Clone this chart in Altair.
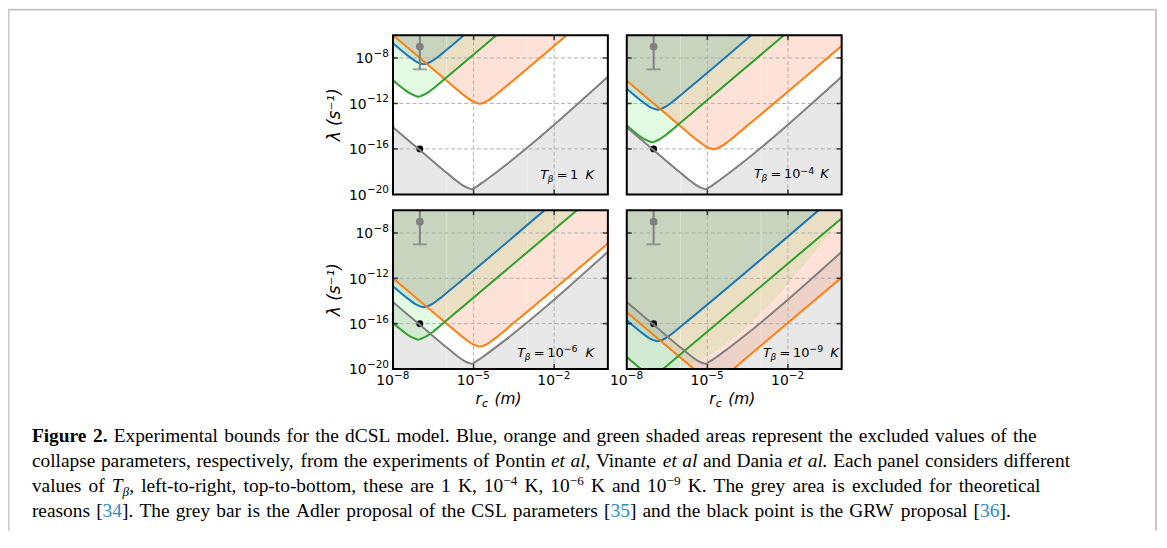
import altair as alt
import pandas as pd

W, H = 1157, 524
SANS = "DejaVu Sans"
SERIF = "Liberation Serif"

# ---------------- values (log10 exponents) ----------------
X_TICKS = [-8, -5, -2]
X_TICK_EXP = ["−8", "−5", "−2"]
Y_TICKS = [-8, -12, -16, -20]
Y_TICK_EXP = ["−8", "−12", "−16", "−20"]
X_GRID = [-5, -2]
Y_GRID = [-8, -12, -16]
MINOR_X = [-6, -3]
T_MAIN = ["1", "10", "10", "10"]
T_EXP = ["", "−4", "−6", "−9"]

ADLER_RC = [-7]
ADLER_CENTER = [-7]
ADLER_LOW = [-9]
ADLER_HIGH = [-5]
GRW_RC = [-7]
GRW_LAMBDA = [-16]

# theoretical (grey) bound, identical in every panel
GREY_X = [-8, -7, -6, -5.6, -5.35, -5.2, -5.07, -4.95, -4.8, -4.6, 0]
GREY_Y = [-14.1, -16.1, -18.1, -18.87, -19.28, -19.45, -19.54, -19.40, -19.18, -18.84, -9.66]

# panel 1: T = 1 K
P1_BLUE_X = [-8, -7.4, -7.15, -7.0, -6.855, -6.7, -6.55, -6.3, -6.0, -5.36]
P1_BLUE_Y = [-6.7, -7.88, -8.30, -8.46, -8.55, -8.45, -8.28, -7.86, -7.28, -6.0]
P1_ORANGE_X = [-8, -6, -5.3, -5.05, -4.9, -4.77, -4.62, -4.47, -4.2, -3.5, -1.535]
P1_ORANGE_Y = [-6, -10, -11.38, -11.79, -11.94, -12.02, -11.93, -11.76, -11.30, -9.93, -6]
P1_GREEN_X = [-8, -7.6, -7.35, -7.2, -7.06, -6.9, -6.75, -6.5, -6.0, -4.15]
P1_GREEN_Y = [-9.95, -10.73, -11.14, -11.30, -11.42, -11.28, -11.11, -10.69, -9.7, -6]

# panel 2: T = 1e-4 K
P2_BLUE_X = [-8, -7.4, -7.15, -7.0, -6.855, -6.7, -6.55, -6.3, -6.0, -3.36]
P2_BLUE_Y = [-10.7, -11.88, -12.30, -12.46, -12.55, -12.45, -12.28, -11.86, -11.28, -6.0]
P2_ORANGE_X = [-8, -6, -5.3, -5.05, -4.9, -4.77, -4.62, -4.47, -4.2, -3.5, 0]
P2_ORANGE_Y = [-10, -14, -15.38, -15.79, -15.94, -16.02, -15.93, -15.76, -15.30, -13.93, -6.93]
P2_GREEN_X = [-8, -7.6, -7.35, -7.2, -7.06, -6.9, -6.75, -6.5, -6.0, -2.15]
P2_GREEN_Y = [-13.95, -14.73, -15.14, -15.30, -15.42, -15.28, -15.11, -14.69, -13.7, -6]

# panel 3: T = 1e-6 K
P3_BLUE_X = [-8, -7.4, -7.15, -7.0, -6.855, -6.7, -6.55, -6.3, -6.0, -2.36]
P3_BLUE_Y = [-12.7, -13.88, -14.30, -14.46, -14.55, -14.45, -14.28, -13.86, -13.28, -6.0]
P3_ORANGE_X = [-8, -6, -5.3, -5.05, -4.9, -4.77, -4.62, -4.47, -4.2, -3.5, 0]
P3_ORANGE_Y = [-12, -16, -17.38, -17.79, -17.94, -18.02, -17.93, -17.76, -17.30, -15.93, -8.93]
P3_GREEN_X = [-8, -7.6, -7.35, -7.2, -7.06, -6.9, -6.75, -6.5, -6.0, -1.15]
P3_GREEN_Y = [-15.95, -16.73, -17.14, -17.30, -17.42, -17.28, -17.11, -16.69, -15.7, -6]

# panel 4: T = 1e-9 K
P4_BLUE_X = [-8, -7.4, -7.15, -7.0, -6.855, -6.7, -6.55, -6.3, -6.0, -0.86]
P4_BLUE_Y = [-15.7, -16.88, -17.30, -17.46, -17.55, -17.45, -17.28, -16.86, -16.28, -6.0]
P4_ORANGE_X = [-8, -6, -5.5, -4.035, -3.5, 0]
P4_ORANGE_Y = [-15, -19, -20, -20, -18.93, -11.93]
P4_ORANGE_SEG = [0, 0, 0, 1, 1, 1]
P4_GREEN_X = [-8, -7.475, -6.65, 0]
P4_GREEN_Y = [-18.95, -20, -20, -6.7]
P4_GREEN_SEG = [0, 0, 1, 1]

# ---------------- styles ----------------
BLUE, ORANGE, GREEN, GREY = "#1f77b4", "#ff7f0e", "#2ca02c", "#808080"
GREY_FILL = "#e8e8e8"
GREEN_FILL, GREEN_OP = "#90ee90", 0.25
ORANGE_FILL, ORANGE_OP = "#ffa07a", 0.30
BLUE_FILL, BLUE_OP = "#6fb8b0", 0.27
GRID = "#b0b0b0"
LAB_SIZE, EXP_SIZE = 14, 10.5
DIGIT_W = 0.636 * LAB_SIZE        # DejaVu Sans digit advance
EXP_W = {1: 16.0, 2: 22.5}         # width of "−d" / "−dd" at EXP_SIZE

PANELS = [
    dict(x0=387, x1=603, y0=26, y1=186, blue=(P1_BLUE_X, P1_BLUE_Y, None),
         orange=(P1_ORANGE_X, P1_ORANGE_Y, None), green=(P1_GREEN_X, P1_GREEN_Y, None),
         ylab=True, xlab=False, k=0, ann=(535, 589, 170.5)),
    dict(x0=622, x1=838, y0=26, y1=186, blue=(P2_BLUE_X, P2_BLUE_Y, None),
         orange=(P2_ORANGE_X, P2_ORANGE_Y, None), green=(P2_GREEN_X, P2_GREEN_Y, None),
         ylab=False, xlab=False, k=1, ann=(750, 825, 170)),
    dict(x0=387, x1=603, y0=202, y1=361.5, blue=(P3_BLUE_X, P3_BLUE_Y, None),
         orange=(P3_ORANGE_X, P3_ORANGE_Y, None), green=(P3_GREEN_X, P3_GREEN_Y, None),
         ylab=True, xlab=True, k=2, ann=(512, 589, 349)),
    dict(x0=622, x1=838, y0=202, y1=361.5, blue=(P4_BLUE_X, P4_BLUE_Y, None),
         orange=(P4_ORANGE_X, P4_ORANGE_Y, P4_ORANGE_SEG), green=(P4_GREEN_X, P4_GREEN_Y, P4_GREEN_SEG),
         ylab=False, xlab=True, k=3, ann=(759, 835, 349)),
]


def curve_frame(xs, ys, seg=None):
    return pd.DataFrame({"x": xs, "y": ys, "top": -6, "bottom": -20,
                         "seg": seg if seg is not None else [0] * len(xs)})


def one():
    return pd.DataFrame({"a": [0]})


def txt(x, y, s, **kw):
    base = dict(align="left", baseline="alphabetic", font=SANS, fontSize=13, color="black")
    base.update(kw)
    return alt.Chart(one()).mark_text(**base).encode(x=alt.value(x), y=alt.value(y), text=alt.value(s))


def panel(p):
    xs = alt.Scale(domain=[-8, 0], range=[p["x0"], p["x1"]], nice=False, zero=False)
    ys = alt.Scale(domain=[-20, -6], range=[p["y1"], p["y0"]], nice=False, zero=False, clamp=True)

    def X(f):
        return alt.X(f, type="quantitative", scale=xs, axis=None)

    def Y(f):
        return alt.Y(f, type="quantitative", scale=ys, axis=None)

    grey = curve_frame(GREY_X, GREY_Y)
    blue = curve_frame(*p["blue"])
    orange = curve_frame(*p["orange"])
    green = curve_frame(*p["green"])
    L = []
    # shaded areas
    L.append(alt.Chart(grey).mark_area(color=GREY_FILL, interpolate="monotone")
             .encode(x=X("x"), y=Y("y"), y2="bottom"))
    L.append(alt.Chart(green).mark_area(color=GREEN_FILL, opacity=GREEN_OP, interpolate="monotone")
             .encode(x=X("x"), y=Y("y"), y2="top"))
    L.append(alt.Chart(orange).mark_area(color=ORANGE_FILL, opacity=ORANGE_OP, interpolate="monotone")
             .encode(x=X("x"), y=Y("y"), y2="top"))
    L.append(alt.Chart(blue).mark_area(color=BLUE_FILL, opacity=BLUE_OP, interpolate="monotone")
             .encode(x=X("x"), y=Y("y"), y2="top"))
    # grid
    gx = pd.DataFrame({"x": X_GRID, "y": -20, "y2": -6})
    gy = pd.DataFrame({"y": Y_GRID, "x": -8, "x2": 0})
    mx = pd.DataFrame({"x": MINOR_X, "y": -20, "y2": -6})
    L.append(alt.Chart(mx).mark_rule(color="white", strokeWidth=1, opacity=0.35)
             .encode(x=X("x"), y=Y("y"), y2="y2"))
    L.append(alt.Chart(gx).mark_rule(color=GRID, strokeWidth=1, strokeDash=[4, 2.5])
             .encode(x=X("x"), y=Y("y"), y2="y2"))
    L.append(alt.Chart(gy).mark_rule(color=GRID, strokeWidth=1, strokeDash=[4, 2.5])
             .encode(y=Y("y"), x=X("x"), x2="x2"))
    # GRW point (under the curves)
    grw = pd.DataFrame({"x": GRW_RC, "y": GRW_LAMBDA})
    L.append(alt.Chart(grw).mark_point(color="black", filled=True, opacity=1, size=48, shape="circle")
             .encode(x=X("x"), y=Y("y")))
    # curves
    for df, col in ((blue, BLUE), (orange, ORANGE), (green, GREEN), (grey, GREY)):
        L.append(alt.Chart(df).mark_line(color=col, strokeWidth=2, interpolate="monotone")
                 .encode(x=X("x"), y=Y("y"), detail="seg:N"))
    # Adler bar
    ad = pd.DataFrame({"x": ADLER_RC, "y": ADLER_CENTER, "lo": ADLER_LOW, "hi": ADLER_HIGH})
    L.append(alt.Chart(ad).mark_rule(color=GREY, strokeWidth=2)
             .encode(x=X("x"), y=Y("lo"), y2="hi"))
    L.append(alt.Chart(ad).mark_tick(color=GREY, orient="horizontal", size=14, thickness=2)
             .encode(x=X("x"), y=Y("lo")))
    L.append(alt.Chart(ad).mark_point(color=GREY, filled=True, opacity=1, size=62, shape="circle")
             .encode(x=X("x"), y=Y("y")))
    # frame
    fr = pd.DataFrame({"x": [-8], "x2": [0], "y": [-20], "y2": [-6]})
    L.append(alt.Chart(fr).mark_rect(fillOpacity=0, stroke="black", strokeWidth=2)
             .encode(x=X("x"), x2="x2", y=Y("y"), y2="y2"))
    # inward ticks
    ty = pd.DataFrame({"y": Y_GRID, "xl": -8, "xr": 0})
    tx = pd.DataFrame({"x": X_GRID, "yb": -20, "yt": -6})
    L.append(alt.Chart(ty).mark_tick(color="black", orient="horizontal", size=5, thickness=1.6, xOffset=2.5)
             .encode(x=X("xl"), y=Y("y")))
    L.append(alt.Chart(ty).mark_tick(color="black", orient="horizontal", size=5, thickness=1.6, xOffset=-2.5)
             .encode(x=X("xr"), y=Y("y")))
    L.append(alt.Chart(tx).mark_tick(color="black", orient="vertical", size=5, thickness=1.6, yOffset=-2.5)
             .encode(x=X("x"), y=Y("yb")))
    L.append(alt.Chart(tx).mark_tick(color="black", orient="vertical", size=5, thickness=1.6, yOffset=2.5)
             .encode(x=X("x"), y=Y("yt")))
    # tick labels ("10" + raised exponent)
    if p["ylab"]:
        for v, e in zip(Y_TICKS, Y_TICK_EXP):
            d = pd.DataFrame({"x": [-8], "y": [v], "b": ["10"], "e": [e]})
            ew = EXP_W[len(e) - 1]
            L.append(alt.Chart(d).mark_text(align="right", baseline="alphabetic", dx=-4, dy=-1,
                                            font=SANS, fontSize=EXP_SIZE, color="black")
                     .encode(x=X("x"), y=Y("y"), text="e:N"))
            L.append(alt.Chart(d).mark_text(align="right", baseline="alphabetic", dx=-4 - ew, dy=5.5,
                                            font=SANS, fontSize=LAB_SIZE, color="black")
                     .encode(x=X("x"), y=Y("y"), text="b:N"))
        cy = (p["y0"] + p["y1"]) / 2
        L.append(alt.Chart(one()).mark_text(angle=270, align="center", baseline="middle",
                                            font=SANS, fontSize=17, fontStyle="italic", color="black")
                 .encode(x=alt.value(p["x0"] - 58), y=alt.value(cy), text=alt.value("λ (s⁻¹)")))
    if p["xlab"]:
        for v, e in zip(X_TICKS, X_TICK_EXP):
            d = pd.DataFrame({"x": [v], "y": [-20], "b": ["10"], "e": [e]})
            tot = 2 * DIGIT_W + EXP_W[len(e) - 1]
            L.append(alt.Chart(d).mark_text(align="left", baseline="alphabetic", dx=-tot / 2, dy=16,
                                            font=SANS, fontSize=LAB_SIZE, color="black")
                     .encode(x=X("x"), y=Y("y"), text="b:N"))
            L.append(alt.Chart(d).mark_text(align="left", baseline="alphabetic",
                                            dx=-tot / 2 + 2 * DIGIT_W, dy=10.5,
                                            font=SANS, fontSize=EXP_SIZE, color="black")
                     .encode(x=X("x"), y=Y("y"), text="e:N"))
        bx = p["x0"] + 83
        by = p["y1"] + 35.5
        L.append(txt(bx, by, "r", fontSize=15.5, fontStyle="italic"))
        L.append(txt(bx + 6.5, by + 3, "c", fontSize=11, fontStyle="italic"))
        L.append(txt(bx + 19, by, "(m)", fontSize=15.5, fontStyle="italic"))
    # temperature annotation
    s, r, b = p["ann"]
    k = p["k"]
    L.append(txt(s, b, "T", fontStyle="italic"))
    L.append(txt(s + 7.5, b + 3, "β", fontSize=9, fontStyle="italic"))
    L.append(txt(s + 16.5, b, "="))
    L.append(txt(s + 30, b, T_MAIN[k]))
    if T_EXP[k]:
        L.append(txt(s + 30 + 16.5, b - 5, T_EXP[k], fontSize=9.5))
    L.append(txt(r, b, "K", align="right", fontStyle="italic"))
    return alt.layer(*L)


# ---------------- caption ----------------
CAPTION_LINES = [
    [("Figure 2.", "b"),
     (" Experimental bounds for the dCSL model. Blue, orange and green shaded areas represent the excluded values of the", "n")],
    [("collapse parameters, respectively, from the experiments of Pontin ", "n"), ("et al", "i"),
     (", Vinante ", "n"), ("et al", "i"), (" and Dania ", "n"), ("et al.", "i"),
     (" Each panel considers different", "n")],
    [("values of ", "n"), ("T", "i"), ("β", "sub"),
     (", left-to-right, top-to-bottom, these are 1 K, 10", "n"), ("−4", "sup"), (" K, 10", "n"),
     ("−6", "sup"), (" K and 10", "n"), ("−9", "sup"),
     (" K. The grey area is excluded for theoretical", "n")],
    [("reasons [", "n"), ("34", "c"), ("]. The grey bar is the Adler proposal of the CSL parameters [", "n"),
     ("35", "c"), ("] and the black point is the GRW proposal [", "n"), ("36", "c"), ("].", "n")],
]
CAP_LINE_ENDS = [1042, 1076, 1046, 1016]     # page x where each caption line ends
CAP_X0 = 32
CAP_BASELINES = [443, 468, 493, 518]         # page y of each baseline
CAP_SIZE = 19.5
CITE = "#2a8cc9"

_R = {" ": 250, ",": 250, ".": 250, "-": 333, "[": 333, "]": 333, "(": 333, ")": 333, "−": 564,
      "β": 500, "A": 722, "B": 667, "C": 667, "D": 722, "E": 611, "F": 556, "G": 722, "K": 722,
      "L": 611, "P": 556, "R": 667, "S": 556, "T": 611, "V": 722, "W": 944,
      "a": 444, "b": 500, "c": 444, "d": 500, "e": 444, "f": 333, "g": 500, "h": 500, "i": 278,
      "j": 278, "k": 500, "l": 278, "m": 778, "n": 500, "o": 500, "p": 500, "q": 500, "r": 333,
      "s": 389, "t": 278, "u": 500, "v": 500, "w": 722, "x": 500, "y": 500, "z": 444}
_B = {"F": 611, "u": 556, "r": 444, "2": 500}
_I = {"T": 556, "a": 500}


def seg_size(style):
    return CAP_SIZE * (0.68 if style in ("sup", "sub") else 1)


def text_width(s, style):
    tab = dict(_R)
    if style == "b":
        tab.update(_B)
    if style in ("i", "sub"):
        tab.update(_I)
    return sum(tab.get(ch, 500) for ch in s) * seg_size(style) / 1000


rows = {k: [] for k in ("n", "b", "i", "c", "sup", "sub")}
for line, base, end in zip(CAPTION_LINES, CAP_BASELINES, CAP_LINE_ENDS):
    # split into words and inter-word spaces, then spread the spaces to fill the line
    tokens = []
    for seg, style in line:
        parts = seg.split(" ")
        for i, part in enumerate(parts):
            if i > 0:
                tokens.append(("space", style))
            if part:
                tokens.append((part, style))
    natural = sum(text_width(" ", st) if t == "space" else text_width(t, st) for t, st in tokens)
    n_sp = sum(1 for t, _ in tokens if t == "space")
    extra = (end - CAP_X0 - natural) / n_sp
    cum = CAP_X0 - 8
    for t, style in tokens:
        if t == "space":
            cum += text_width(" ", style) + extra
            continue
        y = base - 8
        if style == "sup":
            y -= 0.36 * CAP_SIZE
        elif style == "sub":
            y += 0.2 * CAP_SIZE
        rows[style].append({"x": cum, "y": y, "text": t})
        cum += text_width(t, style)

cap_layers = []
for style, props in (("n", {}), ("b", {"fontWeight": "bold"}), ("i", {"fontStyle": "italic"}),
                     ("c", {"color": CITE}), ("sup", {"fontSize": CAP_SIZE * 0.68}),
                     ("sub", {"fontSize": CAP_SIZE * 0.68, "fontStyle": "italic"})):
    kw = dict(align="left", baseline="alphabetic", font=SERIF, fontSize=CAP_SIZE, color="black")
    kw.update(props)
    cap_layers.append(alt.Chart(pd.DataFrame(rows[style])).mark_text(**kw).encode(
        x=alt.X("x:Q", scale=None, axis=None), y=alt.Y("y:Q", scale=None, axis=None), text="text:N"))

# page frame lines
deco = [
    alt.Chart(one()).mark_rule(color="#c8c8c8", strokeWidth=2)
    .encode(x=alt.value(0.5), y=alt.value(0), y2=alt.value(H)),
    alt.Chart(one()).mark_rule(color="#c8c8c8", strokeWidth=2)
    .encode(x=alt.value(1154), y=alt.value(0), y2=alt.value(H)),
    alt.Chart(one()).mark_rule(color="#c8c8c8", strokeWidth=2)
    .encode(x=alt.value(0), x2=alt.value(1155), y=alt.value(0.5)),
]

chart = (
    alt.layer(*deco, *[panel(p) for p in PANELS], *cap_layers)
    .resolve_scale(x="independent", y="independent")
    .properties(width=W, height=H, autosize=alt.AutoSizeParams(type="none"), padding=0,
                background="white")
    .configure_view(stroke=None)
)

chart.save("out.html", embed_options={"renderer": "svg", "actions": False})
